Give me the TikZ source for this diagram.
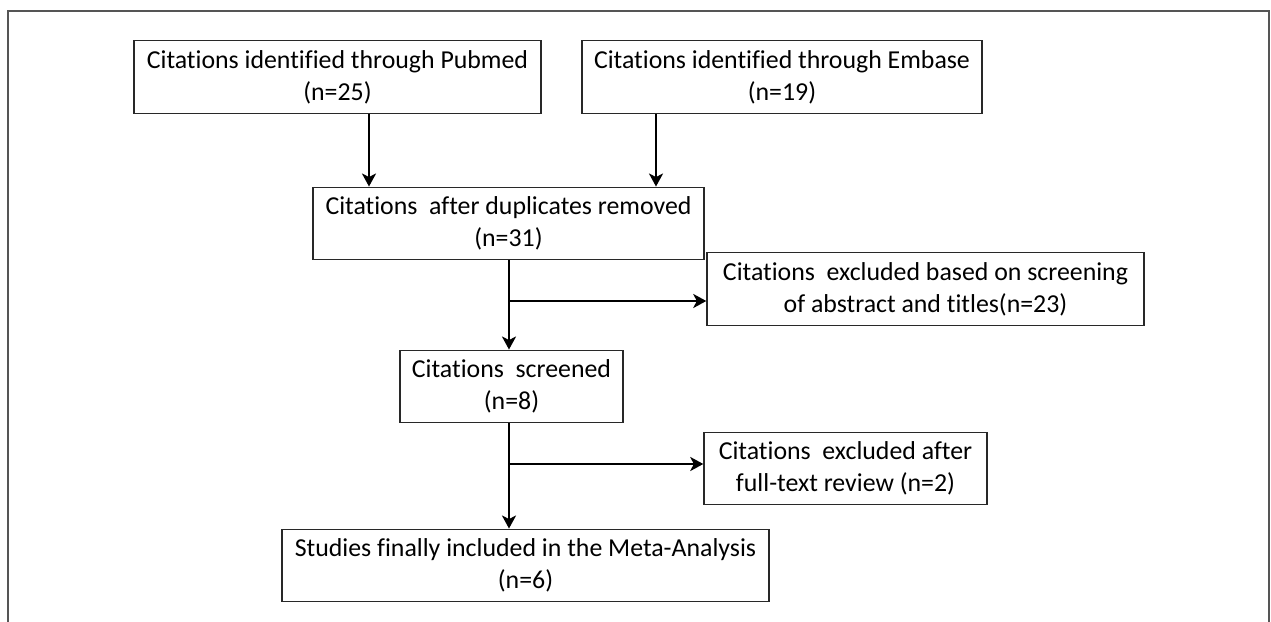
\documentclass[tikz,border=0pt]{standalone}
\usepackage{fontspec}
\setmainfont[Ligatures=NoCommon]{Carlito}
\usepackage{tikz}
\usetikzlibrary{arrows.meta}
\definecolor{framegray}{RGB}{85, 85, 85}
\definecolor{boxline}{RGB}{40, 40, 40}

\tikzset{
    stagebox/.style={draw=boxline, line width=0.8pt, fill=white, align=center, inner sep=0pt,
                     minimum height=1.45cm, font=\fontsize{14.7}{18.4}\selectfont},
    flow/.style={-{Stealth[length=0.26cm, width=0.28cm, inset=0.07cm]}, line width=1.7pt, black}
}

\begin{document}
\begin{tikzpicture}
            % Page and outer frame
            \useasboundingbox                                                 (0.00, 0.00) rectangle (25.42,-12.44);
            \draw[framegray, line width=1.1pt] (0.16,-12.44) -- (0.16,-0.22) -- (25.38,-0.22) -- (25.38,-12.44);
            % Sources
            \node[stagebox, minimum width=8.14cm] (pubmed) at ( 6.75, -1.54) {Citations identified through Pubmed\\(n=25)};
            \node[stagebox, minimum width=8.00cm] (embase) at (15.64, -1.54) {Citations identified through Embase\\(n=19)};
            % Main column
            \node[stagebox, minimum width=7.82cm] (dedup)  at (10.17, -4.47) {Citations\ \ after duplicates removed\\(n=31)};
            \node[stagebox, minimum width=4.46cm] (screen) at (10.23, -7.73) {Citations\ \ screened\\(n=8)};
            \node[stagebox, minimum width=9.74cm] (final)  at (10.51,-11.31) {Studies finally included in the Meta-Analysis\\(n=6)};
            % Exclusions
            \node[stagebox, minimum width=8.74cm] (exabs)  at (18.51, -5.78) {Citations\ \ excluded based on screening\\of abstract and titles(n=23)};
            \node[stagebox, minimum width=5.66cm] (exfull) at (16.91, -9.37) {Citations\ \ excluded after\\full-text review (n=2)};
            % Arrow columns & branch points
            \coordinate (pmcol) at ( 7.38, 0.00);
            \coordinate (emcol) at (13.12, 0.00);
            \coordinate (trunk) at (10.18, 0.00);
            \coordinate (brabs) at (10.18, -6.02);
            \coordinate (brfull) at (10.18, -9.28);
            % Arrows
            \draw[flow] (pubmed.south -| pmcol) -- (dedup.north -| pmcol);
            \draw[flow] (embase.south -| emcol) -- (dedup.north -| emcol);
            \draw[flow] (dedup.south -| trunk)  -- (screen.north -| trunk);
            \draw[flow] (brabs) -- (exabs.west |- brabs);
            \draw[flow] (screen.south -| trunk) -- (final.north -| trunk);
            \draw[flow] (brfull) -- (exfull.west |- brfull);
        \end{tikzpicture}
\end{document}
